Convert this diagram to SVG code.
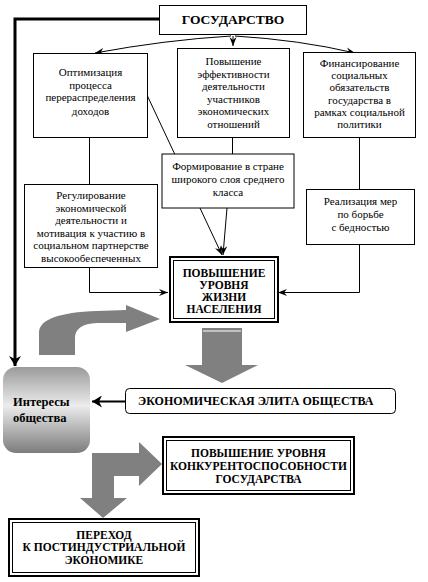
<svg xmlns="http://www.w3.org/2000/svg" width="428" height="582" viewBox="0 0 428 582">
<style>
.box{fill:#fff;stroke:#000;stroke-width:1}
.t{font-family:"Liberation Serif","DejaVu Serif",serif;font-size:11px;fill:#000;text-anchor:middle}
.b{font-family:"Liberation Serif","DejaVu Serif",serif;font-weight:bold;font-size:11.5px;fill:#000;text-anchor:middle}
.ln{fill:none;stroke:#000;stroke-width:1}
.gray{fill:#808080}
</style>
<defs>
<marker id="ah" markerWidth="10" markerHeight="8" refX="9" refY="4" orient="auto" markerUnits="userSpaceOnUse">
<path d="M0,0.5 L9,4 L0,7.5 L3,4 Z" fill="#000"/>
</marker>
<marker id="ahb" markerWidth="12" markerHeight="12" refX="10" refY="6" orient="auto" markerUnits="userSpaceOnUse">
<path d="M0,0 L10,6 L0,12 L3,6 Z" fill="#000"/>
</marker>
<linearGradient id="gr" x1="0" y1="0" x2="0" y2="1">
<stop offset="0" stop-color="#9a9a9a"/>
<stop offset="0.45" stop-color="#ececec"/>
<stop offset="1" stop-color="#7c7c7c"/>
</linearGradient>
</defs>

<g id="connectors">
<path class="ln" d="M231,36 Q165,40 95,53" marker-end="url(#ah)"/>
<path class="ln" d="M233,36 L233,46" marker-end="url(#ah)"/>
<path class="ln" d="M235,36 Q300,40 355,53" marker-end="url(#ah)"/>
<path class="ln" d="M89.5,137 L89.5,185"/>
<path class="ln" d="M89.5,267 L89.5,292.5 L168,292.5" marker-end="url(#ah)"/>
<path class="ln" d="M359.5,137 L359.5,292.5 L278,292.5" marker-end="url(#ah)"/>
<path class="ln" d="M147,95 L222,255" marker-end="url(#ah)"/>
<path class="ln" d="M232.5,137 L232.5,154"/>
<path class="ln" d="M227,208 L223,255" marker-end="url(#ah)"/>
<path fill="none" stroke="#000" stroke-width="3" d="M159,19 L15,19 L15,366" marker-end="url(#ahb)"/>
<path fill="none" stroke="#000" stroke-width="2" d="M125,401.5 L92,401.5" marker-end="url(#ahb)"/>
<path class="gray" d="M39,355 L39,332 Q40,313 97,311 L126,310 L126,305 L160,319 L126,332 L126,323 L97,323 Q75,324 75,338 L75,355 Z"/>
<path class="gray" d="M202,328 L242,328 L242,365 L258,365 L222,383 L185,365 L202,365 Z"/>
<line x1="203" y1="331" x2="241" y2="331" stroke="#fff" stroke-width="1"/>
<path class="gray" d="M92,453 L139,453 L139,442 L162,464 L139,486 L139,476 L114,476 L114,498 L127,498 L103,518 L80,498 L92,498 Z"/>
</g>

<g id="gosudarstvo">
<rect class="box" x="159.5" y="5.5" width="147" height="29"/>
<text class="b" x="233" y="24" style="font-size:13.5px">ГОСУДАРСТВО</text>
</g>

<g id="optimizacia">
<rect class="box" x="33.5" y="53.5" width="114" height="84"/>
<text class="t" x="90.5" y="76">Оптимизация</text>
<text class="t" x="90.5" y="88.5">процесса</text>
<text class="t" x="90.5" y="101">перераспределения</text>
<text class="t" x="90.5" y="114.5">доходов</text>
</g>

<g id="povyshenie-eff">
<rect class="box" x="177.5" y="48.5" width="112" height="89"/>
<text class="t" x="233.5" y="65">Повышение</text>
<text class="t" x="233.5" y="77.5">эффективности</text>
<text class="t" x="233.5" y="90">деятельности</text>
<text class="t" x="233.5" y="102.5">участников</text>
<text class="t" x="233.5" y="115">экономических</text>
<text class="t" x="233.5" y="127.5">отношений</text>
</g>

<g id="finansirovanie">
<rect class="box" x="303.5" y="52.5" width="112" height="85"/>
<text class="t" x="359.5" y="67">Финансирование</text>
<text class="t" x="359.5" y="79.2">социальных</text>
<text class="t" x="359.5" y="91.4">обязательств</text>
<text class="t" x="359.5" y="103.6">государства в</text>
<text class="t" x="359.5" y="115.8">рамках социальной</text>
<text class="t" x="359.5" y="128">политики</text>
</g>

<g id="formirovanie">
<rect class="box" x="162" y="154" width="132" height="54"/>
<text class="t" x="228" y="170">Формирование в стране</text>
<text class="t" x="228" y="183">широкого слоя среднего</text>
<text class="t" x="228" y="196">класса</text>
</g>

<g id="regulirovanie">
<rect class="box" x="24.5" y="184.5" width="133" height="83"/>
<text class="t" x="91" y="199">Регулирование</text>
<text class="t" x="91" y="211.6">экономической</text>
<text class="t" x="91" y="224.2">деятельности и</text>
<text class="t" x="91" y="236.8">мотивация к участию в</text>
<text class="t" x="91" y="249.4">социальном партнерстве</text>
<text class="t" x="91" y="262">высокообеспеченных</text>
</g>

<g id="realizacia">
<rect class="box" x="306.5" y="189.5" width="108" height="55"/>
<text class="t" x="360.5" y="205">Реализация мер</text>
<text class="t" x="360.5" y="218">по борьбе</text>
<text class="t" x="360.5" y="231">с бедностью</text>
</g>

<g id="uroven-zhizni">
<rect x="170" y="257" width="108" height="65" fill="#fff" stroke="#000" stroke-width="2"/>
<rect x="173.5" y="260.5" width="101" height="58" fill="none" stroke="#000" stroke-width="1"/>
<text class="b" x="224" y="277">ПОВЫШЕНИЕ</text>
<text class="b" x="224" y="289">УРОВНЯ</text>
<text class="b" x="224" y="301">ЖИЗНИ</text>
<text class="b" x="224" y="313">НАСЕЛЕНИЯ</text>
</g>

<g id="interesy">
<rect x="3" y="367" width="87" height="86" rx="13" fill="url(#gr)"/>
<text class="b" x="13" y="406" style="text-anchor:start;font-size:12.5px">Интересы</text>
<text class="b" x="13" y="422" style="text-anchor:start;font-size:12.5px">общества</text>
</g>

<g id="elita">
<rect class="box" x="125.5" y="388.5" width="270" height="25" rx="4"/>
<text class="b" x="138" y="405" style="text-anchor:start;font-size:12px">ЭКОНОМИЧЕСКАЯ ЭЛИТА ОБЩЕСТВА</text>
</g>

<g id="konkurentosposobnost">
<rect x="163" y="437" width="191" height="57" fill="#fff" stroke="#000" stroke-width="2"/>
<rect x="166.5" y="440.5" width="184" height="50" fill="none" stroke="#000" stroke-width="1"/>
<text class="b" x="258.5" y="457">ПОВЫШЕНИЕ УРОВНЯ</text>
<text class="b" x="258.5" y="469.5">КОНКУРЕНТОСПОСОБНОСТИ</text>
<text class="b" x="258.5" y="482.5">ГОСУДАРСТВА</text>
</g>

<g id="perehod">
<rect x="9" y="519" width="190" height="57" fill="#fff" stroke="#000" stroke-width="2"/>
<rect x="12.5" y="522.5" width="183" height="50" fill="none" stroke="#000" stroke-width="1"/>
<text class="b" x="104" y="539">ПЕРЕХОД</text>
<text class="b" x="104" y="551">К ПОСТИНДУСТРИАЛЬНОЙ</text>
<text class="b" x="104" y="563.5">ЭКОНОМИКЕ</text>
</g>
</svg>
